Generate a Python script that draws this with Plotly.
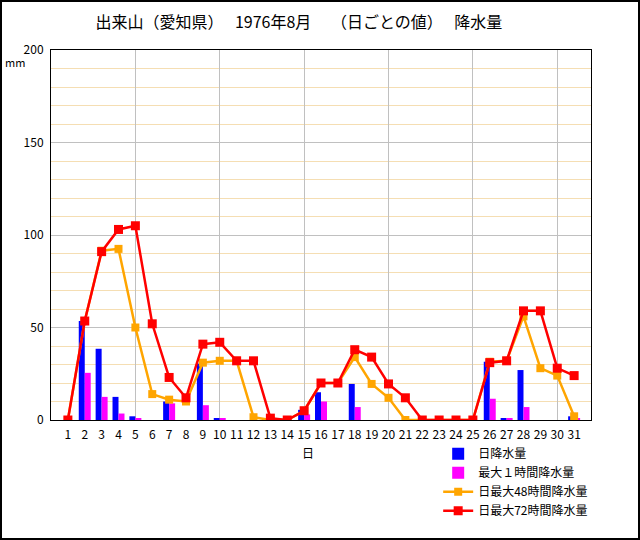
import plotly.graph_objects as go

# 出来山（愛知県） 1976年8月 日ごとの値
days = list(range(1, 32))
day_labels = [str(d) for d in days]

daily_rain = [0, 53.5, 38.5, 12.5, 2, 0, 10, 0, 30.5, 1,
              0, 0, 0, 0, 5.5, 15, 0, 19.5, 0, 0,
              0, 0, 0, 0, 0, 31.5, 1, 27, 0, 0, 2]
max_1h = [0, 25.5, 12.5, 3.5, 1, 0, 9, 0, 8, 1,
          0, 0, 0, 0, 3, 10, 0, 7, 0, 0,
          0, 0, 0, 0, 0, 11.5, 1, 7, 0, 0, 1]
max_48h = [0, 53.5, 91.5, 92.5, 50, 14, 11, 10, 31, 32,
           32, 1.5, 0, 0, 5, 20, 20, 34, 19.5, 12,
           0, 0, 0, 0, 0, 31.5, 32, 56, 28, 24, 2]
max_72h = [0, 53.5, 91, 103, 105, 52, 23, 12, 41, 42,
           32, 32, 1, 0, 5, 20, 20, 38, 34, 19.5,
           12, 0, 0, 0, 0, 31, 32, 59, 59, 28, 24]

grid_days = [5, 10, 15, 20, 25, 30]
y_ticks = [0, 50, 100, 150, 200]

FONT = "Noto Sans CJK JP"

fig = go.Figure()
fig.add_trace(go.Bar(x=days, y=daily_rain, name="日降水量",
                     marker=dict(color="#0000ff", line_width=0)))
fig.add_trace(go.Bar(x=days, y=max_1h, name="最大１時間降水量",
                     marker=dict(color="#ff00ff", line_width=0)))
fig.add_trace(go.Scatter(x=days, y=max_48h, name="日最大48時間降水量",
                         xaxis="x2", mode="lines+markers",
                         line=dict(color="#ffa500", width=2.5),
                         marker=dict(symbol="square", size=8, color="#ffa500")))
fig.add_trace(go.Scatter(x=days, y=max_72h, name="日最大72時間降水量",
                         xaxis="x2", mode="lines+markers",
                         line=dict(color="#ff0000", width=2.5),
                         marker=dict(symbol="square", size=9, color="#ff0000")))

fig.update_layout(
    width=640, height=540,
    margin=dict(l=51, r=49, t=50, b=120),
    paper_bgcolor="white", plot_bgcolor="white",
    font=dict(family=FONT, size=12, color="black"),
    barmode="group", bargap=0.29, bargroupgap=0,
    title=dict(text="出来山（愛知県）　 1976年8月　 （日ごとの値）　 降水量",
               x=0.467, xanchor="center", y=0.959, yanchor="middle",
               font=dict(family=FONT, size=16, color="black")),
    xaxis=dict(range=[0, 32], tickmode="array", tickvals=grid_days,
               showticklabels=False, ticks="",
               showgrid=True, gridcolor="#c0c0c0", gridwidth=1,
               showline=True, linecolor="black", linewidth=1, mirror=True,
               zeroline=False),
    xaxis2=dict(range=[0, 32], matches="x", overlaying="x", anchor="y",
                side="bottom", tickmode="array", tickvals=days,
                ticktext=day_labels, ticks="", showgrid=False,
                showline=False, zeroline=False, ticklabelstandoff=6,
                tickfont=dict(family=FONT, size=12)),
    yaxis=dict(range=[0, 200], tickmode="array", tickvals=y_ticks, ticks="",
               showgrid=True, gridcolor="#c0c0c0", gridwidth=1,
               minor=dict(dtick=10, showgrid=True, gridcolor="#f5deb3",
                          gridwidth=1, ticks=""),
               showline=True, linecolor="black", linewidth=1, mirror=True,
               zeroline=False, ticklabelstandoff=4,
               tickfont=dict(family=FONT, size=12)),
    legend=dict(x=0.717, y=-0.052, xanchor="left", yanchor="top",
                bgcolor="rgba(0,0,0,0)", borderwidth=0,
                font=dict(family=FONT, size=12), tracegroupgap=0,
                traceorder="normal"),
    annotations=[
        dict(text="mm", xref="paper", yref="paper", x=-0.0667, y=0.9676,
             xanchor="center", yanchor="middle",
             showarrow=False, font=dict(family=FONT, size=11)),
        dict(text="日", xref="paper", yref="paper", x=0.476, y=-0.0865,
             xanchor="center", yanchor="middle",
             showarrow=False, font=dict(family=FONT, size=12)),
    ],
    shapes=[
        dict(type="rect", xref="paper", yref="paper",
             x0=(1 - 51) / 540, x1=(639 - 51) / 540,
             y0=(420 - 539) / 370, y1=(420 - 1) / 370,
             line=dict(color="black", width=2), layer="above"),
    ],
)

fig.write_html("out.html", config={"displayModeBar": False},
               post_script="document.body.style.margin='0';")
